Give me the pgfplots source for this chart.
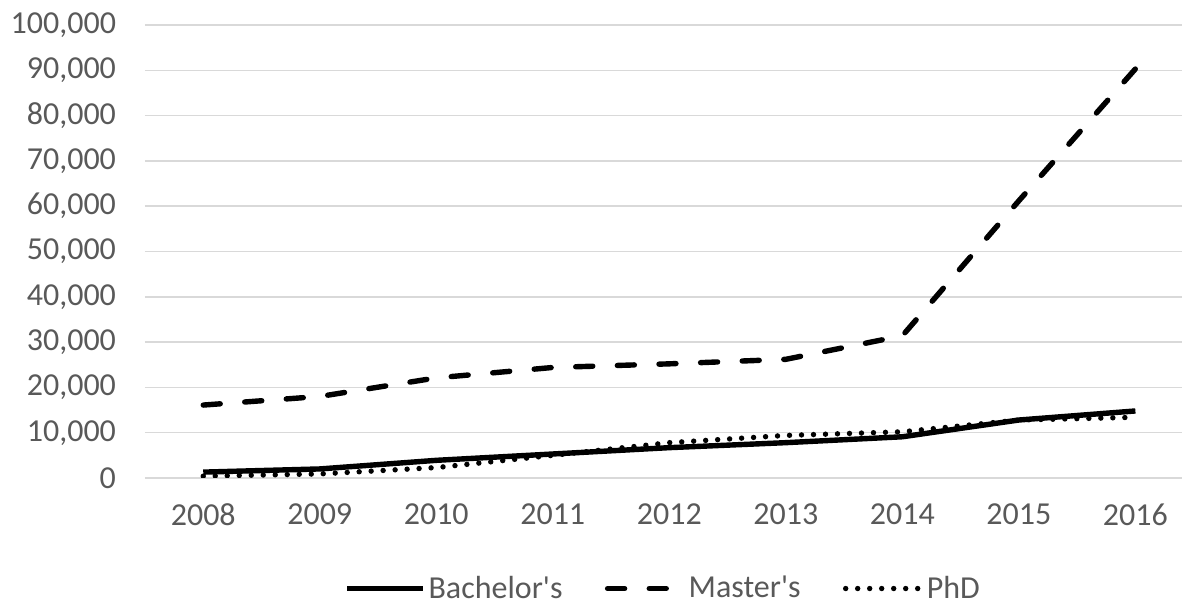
\documentclass[border=0pt]{standalone}
\usepackage{pgfplots}
\pgfplotsset{compat=1.18}
\usepackage{fontspec}
\setmainfont{Carlito}
\definecolor{txt}{HTML}{595959}
\definecolor{gridgray}{HTML}{D9D9D9}

\begin{document}
\begin{tikzpicture}
  \begin{axis}[
    scale only axis,
    width=518.5pt, height=226.5pt,
    xmin=2007.5, xmax=2016.4,
    ymin=0, ymax=100000,
    xtick={2008,...,2016},
    ytick={0,10000,...,100000},
    axis line style={draw=none},
    major tick length=0pt,
    xmajorgrids=false,
    ymajorgrids=true,
    major grid style={draw=gridgray, line width=0.75pt},
    scaled y ticks=false,
    ticklabel style={font=\fontsize{16}{19}\selectfont, text=txt},
    /pgf/number format/assume math mode=true,
    x tick label style={/pgf/number format/1000 sep={}},
    y tick label style={/pgf/number format/fixed, /pgf/number format/1000 sep={,}},
    yticklabel shift=11pt,
    xticklabel shift=9.5pt,
    legend columns=-1,
    legend style={draw=none, fill=none, at={(0.5,-0.2440)}, anchor=center,
      font=\fontsize{16}{19}\selectfont, text=txt, inner sep=0pt,
      /tikz/every even column/.append style={column sep=20pt},
      nodes={inner xsep=1.2pt, inner ysep=0pt}},
    legend image code/.code={\draw[#1] (0pt,0pt) -- (38pt,0pt);},
  ]
    \addplot[black, line width=2.7pt, line join=round] coordinates {
      (2008,1300) (2009,2000) (2010,3900) (2011,5300) (2012,6700)
      (2013,7800) (2014,9100) (2015,12800) (2016,14800)
    };
    \addplot[black, line width=2.7pt, line cap=round, line join=round,
      dash pattern=on 8.5pt off 12.32pt] coordinates {
      (2008,16100) (2009,18000) (2010,22100) (2011,24400) (2012,25200)
      (2013,26200) (2014,31400) (2015,61200) (2016,90300)
    };
    \addplot[black, line width=2.7pt, line cap=round,
      dash pattern=on 0pt off 6pt] coordinates {
      (2008,400) (2009,900) (2010,2300) (2011,5000) (2012,7800)
      (2013,9400) (2014,10200) (2015,12800) (2016,13400)
    };
    \legend{Bachelor\textquotesingle s, Master\textquotesingle s, PhD}
  \end{axis}
  \pgfresetboundingbox
  \path[use as bounding box] (-72.5pt,-63pt) rectangle (518.5pt,239pt);
\end{tikzpicture}
\end{document}
